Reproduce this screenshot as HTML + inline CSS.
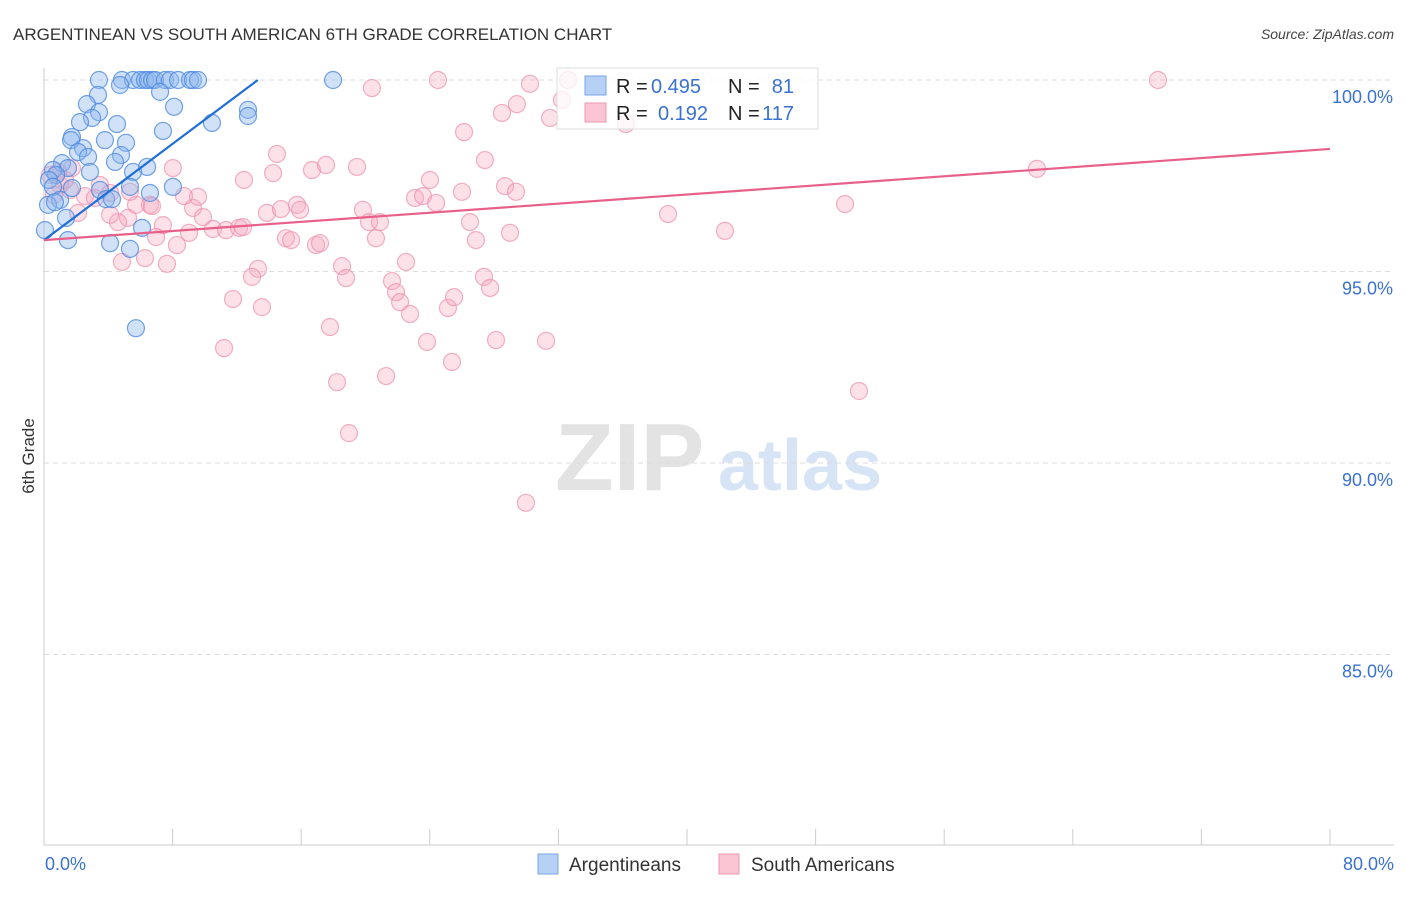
<!DOCTYPE html>
<html><head><meta charset="utf-8"><style>
body{margin:0;background:#fff;font-family:"Liberation Sans",sans-serif;}
svg text{font-family:"Liberation Sans",sans-serif;}
</style></head><body>
<svg id="chart" width="1406" height="892" xmlns="http://www.w3.org/2000/svg">
<text x="13" y="40" font-size="17" fill="#333">ARGENTINEAN VS SOUTH AMERICAN 6TH GRADE CORRELATION CHART</text>
<text x="1394" y="39" font-size="14" fill="#444" font-style="italic" text-anchor="end">Source: ZipAtlas.com</text>
<text x="34" y="456" font-size="17" fill="#333" transform="rotate(-90 34 456)" text-anchor="middle">6th Grade</text>
<g>
<text x="555" y="490" font-size="96" fill="#e3e3e3" font-family="Liberation Serif" font-weight="bold">ZIP</text>
<text x="718" y="490" font-size="72" fill="#d6e4f5" font-weight="bold">atlas</text>
</g>
<g id="grid"></g>
<g id="axes"></g>
<g id="pts"></g>
<g id="trend"></g>
<g>
<rect x="557" y="68" width="261" height="61" fill="#fff" fill-opacity="0.75" stroke="#ddd"/>
<rect x="585" y="76" width="21" height="19" fill="#b7d0f5" stroke="#7aa5e6"/>
<rect x="585" y="103" width="21" height="19" fill="#fbc5d4" stroke="#ee97b0"/>
<text x="616" y="93" font-size="20" fill="#222">R =</text>
<text x="651" y="93" font-size="20" fill="#3a72d0">0.495</text>
<text x="728" y="93" font-size="20" fill="#222">N =</text>
<text x="794" y="93" font-size="20" fill="#3a72d0" text-anchor="end">81</text>
<text x="616" y="120" font-size="20" fill="#222">R =</text>
<text x="658" y="120" font-size="20" fill="#3a72d0">0.192</text>
<text x="728" y="120" font-size="20" fill="#222">N =</text>
<text x="794" y="120" font-size="20" fill="#3a72d0" text-anchor="end">117</text>
</g>
<g>
<rect x="538" y="854" width="20" height="20" fill="#b7d0f5" stroke="#7aa5e6"/>
<text x="569" y="871" font-size="19" fill="#333">Argentineans</text>
<rect x="719" y="854" width="20" height="20" fill="#fbc5d4" stroke="#ee97b0"/>
<text x="751" y="871" font-size="19" fill="#333">South Americans</text>
</g>
</svg>
<script>
const xTicks=[0,10,20,30,40,50,60,70,80];
const yTicks=[100,95,90,85];
const blueX=[3.42,4.85,5.54,5.97,6.28,6.47,6.72,6.91,7.53,7.84,8.34,9.08,9.27,9.58,17.98,4.73,7.22,3.36,2.67,8.09,3.42,12.69,12.69,2.99,4.54,10.45,2.24,7.40,1.74,1.68,3.79,5.10,2.43,2.12,2.74,4.79,4.42,6.41,1.12,1.49,2.86,5.54,0.56,0.75,0.31,5.35,8.02,0.56,3.48,1.74,6.59,3.86,4.23,1.00,0.25,0.68,0.06,1.49,1.37,6.10,4.11,5.35,5.72];
const blueY=[100,100,100,100,100,100,100,100,100,100,100,100,100,100,100,99.87,99.69,99.61,99.37,99.30,99.16,99.22,99.06,99.01,98.85,98.88,98.90,98.67,98.51,98.43,98.43,98.36,98.22,98.12,97.99,98.04,97.86,97.73,97.83,97.70,97.60,97.60,97.65,97.52,97.39,97.21,97.21,97.21,97.13,97.18,97.05,96.89,96.89,96.87,96.74,96.81,96.08,95.82,96.40,96.14,95.74,95.59,93.52];
const pinkX=[69.3,24.51,30.23,20.40,32.60,32.22,29.42,28.49,31.48,36.20,26.13,14.49,8.02,12.44,14.25,16.67,17.54,19.47,24.01,27.43,28.68,29.36,26.00,23.08,23.58,24.39,15.74,15.93,9.27,5.23,6.59,5.72,13.87,14.74,9.58,8.71,9.89,10.51,11.32,12.13,12.38,7.40,9.02,8.27,6.97,4.60,15.05,15.37,16.92,17.17,19.84,20.22,20.90,20.65,26.50,26.87,28.99,38.82,42.36,49.83,61.77,22.52,18.54,13.31,12.94,18.79,21.65,21.90,22.15,22.77,11.76,13.56,17.79,23.83,25.13,25.51,27.37,27.75,28.12,31.23,25.38,11.20,21.28,18.23,18.97,29.98,50.70,4.85,7.65,6.28,4.11,2.12,1.62,1.00,2.55,3.17,4.11,0.87,0.37,1.31,0.62,3.48,5.35,6.72,1.74];
const pinkY=[100,100,99.90,99.79,100,99.48,99.37,99.14,99.01,98.85,98.64,98.07,97.70,97.39,97.57,97.65,97.78,97.73,97.39,97.91,97.23,97.08,97.08,96.92,96.97,96.79,96.74,96.61,96.66,96.40,96.74,96.74,96.53,96.63,96.95,96.97,96.42,96.11,96.08,96.14,96.16,96.21,96.01,95.69,95.90,96.29,95.87,95.82,95.69,95.74,96.61,96.29,96.29,95.87,96.29,95.82,96.01,96.50,96.06,96.76,97.68,95.25,95.14,95.07,94.86,94.83,94.75,94.46,94.20,93.89,94.28,94.07,93.55,93.16,94.05,94.33,94.86,94.57,93.21,93.19,92.64,93.00,92.27,92.11,90.78,88.96,91.88,95.25,95.20,95.35,96.48,96.53,97.13,97.26,96.97,96.92,97.05,97.60,97.52,97.39,97.00,97.26,97.08,96.71,97.70];
const blueTrend=[0,95.82,13.3,100];
const pinkTrend=[0,95.82,80,98.2];
const NS="http://www.w3.org/2000/svg";
const sx=v=>44+v*16.075;
const sy=v=>80+(100-v)*38.3;
function mk(tag,attrs,parent){const e=document.createElementNS(NS,tag);for(const k in attrs)e.setAttribute(k,attrs[k]);parent.appendChild(e);return e;}
const grid=document.getElementById('grid'),axes=document.getElementById('axes'),pts=document.getElementById('pts'),trend=document.getElementById('trend');
yTicks.forEach(t=>{
 const l=mk('line',{x1:44,x2:1394,y1:sy(t),y2:sy(t),stroke:'#ddd','stroke-dasharray':'5,4'},grid);
 
 
 const tx=mk('text',{x:1393,y:sy(t)+23,'font-size':18,fill:'#3a72d0','text-anchor':'end'},axes);
 tx.textContent=t.toFixed(1)+'%';
 
 
});
const ax=mk('line',{x1:44,x2:1394,y1:845,y2:845,stroke:'#ccc'},axes);


const ay=mk('line',{x1:44,x2:44,y1:68,y2:845,stroke:'#ccc'},axes);


for(let i=0;i<=10;i++){
 const v=i*8;
 const t=mk('line',{x1:sx(v),x2:sx(v),y1:829,y2:845,stroke:'#ccc'},axes);
 
 
}
[[0,'start',45],[80,'end',1394]].forEach(([v,a,x])=>{
 const t=mk('text',{x:x,y:870,'font-size':18,fill:'#3a72d0','text-anchor':a},axes);
 t.textContent=v.toFixed(1)+'%';
 
 
});
pinkX.forEach((x,i)=>{
 const c=mk('circle',{cx:sx(x),cy:sy(pinkY[i]),r:8.5,fill:'#f7a8bf','fill-opacity':0.35,stroke:'#ee8fab','stroke-opacity':0.7,'stroke-width':1.2},pts);
 
 
});
blueX.forEach((x,i)=>{
 const c=mk('circle',{cx:sx(x),cy:sy(blueY[i]),r:8.5,fill:'#8db6ee','fill-opacity':0.4,stroke:'#4f8be0','stroke-opacity':0.8,'stroke-width':1.2},pts);
 
 
});
const bt=mk('line',{x1:sx(blueTrend[0]),y1:sy(blueTrend[1]),x2:sx(blueTrend[2]),y2:sy(blueTrend[3]),stroke:'#1f6fd6','stroke-width':2.2},trend);


const pt=mk('line',{x1:sx(pinkTrend[0]),y1:sy(pinkTrend[1]),x2:sx(pinkTrend[2]),y2:sy(pinkTrend[3]),stroke:'#e8608a','stroke-width':2.2},trend);


</script>
</body></html>
